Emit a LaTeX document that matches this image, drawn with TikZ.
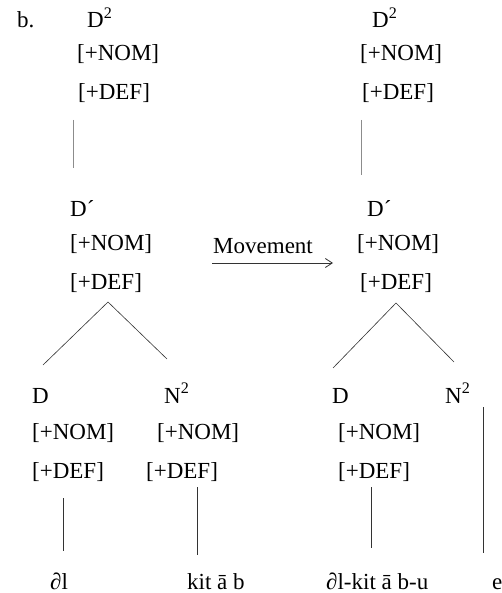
\documentclass[tikz,border=0pt]{standalone}
\usepackage{fontspec}
\setmainfont{Liberation Serif}
\usetikzlibrary{arrows.meta}
\begin{document}
\begin{tikzpicture}[x=1pt,y=-1pt,
  lbl/.style={anchor=base west,inner sep=0pt,font=\fontsize{23}{27}\selectfont},
  branch/.style={line width=0.6pt,draw=black!80},
  faint/.style={line width=0.6pt,draw=black!45}]
\useasboundingbox (0,0) rectangle (501,593);
% left tree top
\node[lbl] (b) at (17,28) {b.};
\node[lbl] (LD2) at (87,28) {D\textsuperscript{2}};
\node[lbl] (LNOM1) at (77,61) {[+NOM]};
\node[lbl] (LDEF1) at (78,100) {[+DEF]};
\coordinate (la1) at (73,120);
\coordinate (la2) at (73,168);
\draw[faint] (la1) -- (la2);
% left D'
\node[lbl] (LDb) at (70,217) {D´};
\node[lbl] (LNOM2) at (70,251) {[+NOM]};
\node[lbl] (LDEF2) at (70,289) {[+DEF]};
\coordinate (lapex) at (108,302);
\coordinate (lleft) at (43,365);
\coordinate (lright) at (167,359);
\draw[branch] (lleft) -- (lapex) -- (lright);
% left bottom
\node[lbl] (LD) at (32,403) {D};
\node[lbl] (LN2) at (164,403) {N\textsuperscript{2}};
\node[lbl] (LNOM3) at (32,439) {[+NOM]};
\node[lbl] (LDEF3) at (32,478) {[+DEF]};
\node[lbl] (LNOM4) at (157,439) {[+NOM]};
\node[lbl] (LDEF4) at (146,478) {[+DEF]};
\coordinate (lv1a) at (63,498);
\coordinate (lv1b) at (63,551);
\coordinate (lv2a) at (197,487);
\coordinate (lv2b) at (197,555);
\draw[branch] (lv1a) -- (lv1b);
\draw[branch] (lv2a) -- (lv2b);
\node[lbl] (el) at (50,589) {∂l};
\node[lbl] (kitab) at (187,589) {kit ā b};
% movement
\node[lbl] (mov) at (213,253) {Movement};
\coordinate (m1) at (212,263);
\coordinate (m2) at (333,263);
\draw[branch,line width=0.8pt,-{Straight Barb[length=7pt,width=9pt]}] (m1) -- (m2);
% right tree top
\node[lbl] (RD2) at (372,28) {D\textsuperscript{2}};
\node[lbl] (RNOM1) at (360,61) {[+NOM]};
\node[lbl] (RDEF1) at (362,100) {[+DEF]};
\coordinate (ra1) at (361,120);
\coordinate (ra2) at (361,175);
\draw[faint] (ra1) -- (ra2);
% right D'
\node[lbl] (RDb) at (367,217) {D´};
\node[lbl] (RNOM2) at (357,251) {[+NOM]};
\node[lbl] (RDEF2) at (360,289) {[+DEF]};
\coordinate (rapex) at (396,303);
\coordinate (rleft) at (333,368);
\coordinate (rright) at (454,362);
\draw[branch] (rleft) -- (rapex) -- (rright);
% right bottom
\node[lbl] (RD) at (332,403) {D};
\node[lbl] (RN2) at (445,403) {N\textsuperscript{2}};
\node[lbl] (RNOM3) at (338,439) {[+NOM]};
\node[lbl] (RDEF3) at (338,478) {[+DEF]};
\coordinate (rv1a) at (371,487);
\coordinate (rv1b) at (371,548);
\coordinate (rv2a) at (483,407);
\coordinate (rv2b) at (483,553);
\draw[branch] (rv1a) -- (rv1b);
\draw[branch] (rv2a) -- (rv2b);
\node[lbl] (elkitabu) at (326,589) {∂l-kit ā b-u};
\node[lbl] (e) at (492,589) {e};
\end{tikzpicture}
\end{document}
